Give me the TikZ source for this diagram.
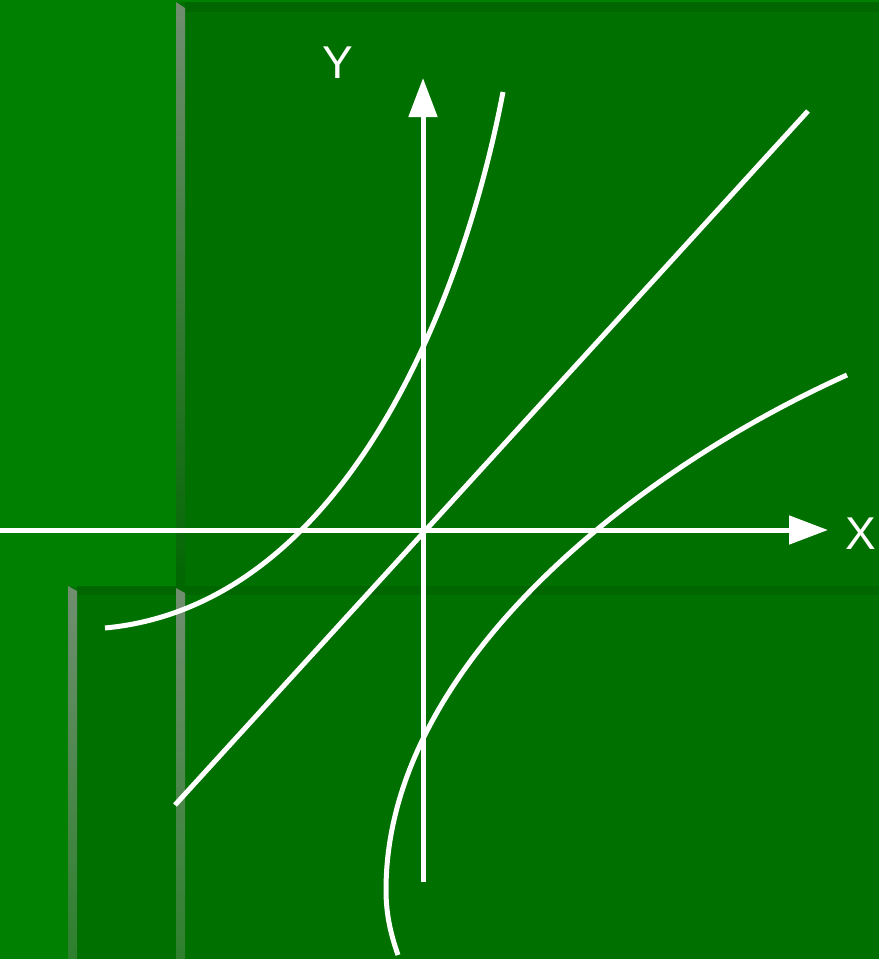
\documentclass[tikz,border=0pt]{standalone}
\usepackage{fontspec}
\setmainfont{Liberation Sans}
\usetikzlibrary{arrows.meta}
\definecolor{wallgreen}{RGB}{0,128,0}
\definecolor{panelgreen}{RGB}{0,112,0}
\definecolor{edgegreen}{RGB}{0,103,0}
\definecolor{posttop}{RGB}{112,142,112}
\definecolor{postlow}{RGB}{45,128,45}
\begin{document}
\begin{tikzpicture}[
    x=1pt,y=-1pt,
    panel/.style={fill=panelgreen, draw=none},
    ledge/.style={fill=edgegreen, draw=none},
    curve/.style={draw=white, line width=5pt},
    axis/.style={draw=white, line width=5pt, -{Triangle[length=39pt,width=28pt]}},
    axislabel/.style={text=white, font=\fontsize{46}{46}\selectfont, inner sep=0pt, anchor=base}
]
    \useasboundingbox (0,0) rectangle (879,959);

    % background panels
    \fill[wallgreen] (0,0) rectangle (879,959);
    \path[panel] (176,2) rectangle (879,587);
    \path[panel] (68,587) rectangle (879,959);
    \path[ledge] (185,2) rectangle (879,12);
    \path[ledge] (77,586) rectangle (879,595);

    % posts
    \shade[top color=posttop, bottom color=edgegreen] (176,2) -- (185,8) -- (185,587) -- (176,587) -- cycle;
    \shade[top color=posttop, bottom color=postlow] (68,586) -- (77,591) -- (77,959) -- (68,959) -- cycle;
    \shade[top color=posttop, bottom color=postlow] (176,588) -- (185,593) -- (185,959) -- (176,959) -- cycle;

    % axes
    \coordinate (xstart) at (0,530);
    \coordinate (xend) at (828,530);
    \coordinate (ystart) at (423,882);
    \coordinate (yend) at (423,78);
    \draw[axis] (xstart) -- (xend);
    \draw[axis] (ystart) -- (yend);
    \node[axislabel] (xlabel) at (861,549) {X};
    \node[axislabel] (ylabel) at (338,78) {Y};

    % graphs
    \coordinate (lstart) at (175,805);
    \coordinate (lend) at (808,111);
    \draw[curve] (lstart) -- (lend);

    \coordinate (expstart) at (105,628);
    \coordinate (expend) at (503,92);
    \draw[curve] (expstart) .. controls (340,606) and (461,312) .. (expend);

    \coordinate (logstart) at (847,375);
    \coordinate (logturn) at (386,890);
    \coordinate (logend) at (398,955);
    \draw[curve] (logstart) .. controls (627,474) and (386,670) .. (logturn)
        .. controls (386,915) and (391,935) .. (logend);
\end{tikzpicture}
\end{document}
